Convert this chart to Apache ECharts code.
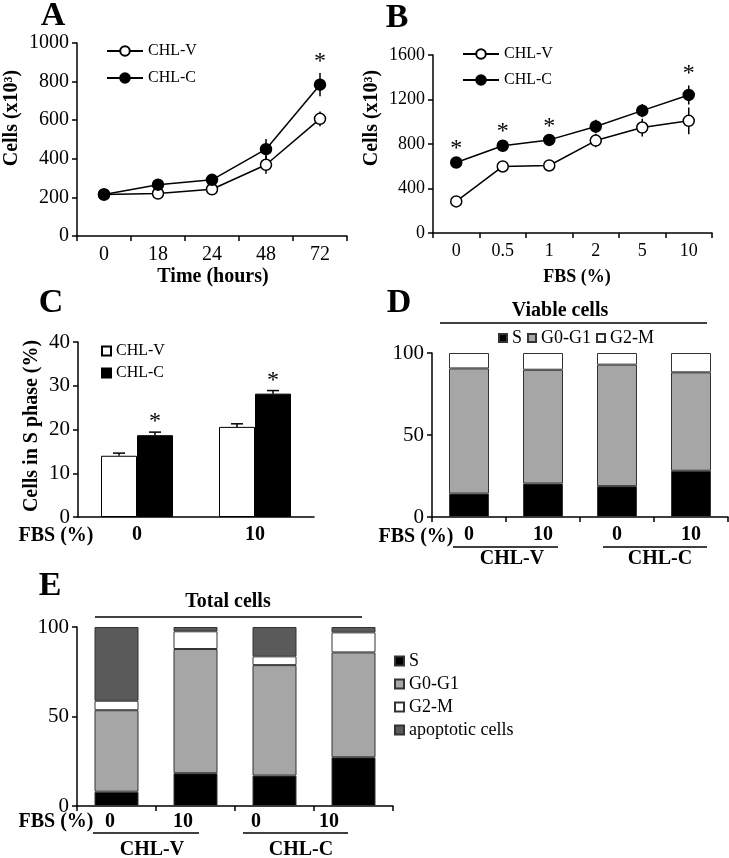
<!DOCTYPE html>
<html><head><meta charset="utf-8">
<script src="https://cdn.jsdelivr.net/npm/echarts@6/dist/echarts.min.js"></script>
<style>html,body{margin:0;padding:0;background:#fff}#c{width:729px;height:858px}</style>
</head><body><div id="c"></div>
<script>
const FF = '"Liberation Serif","Times New Roman",serif';
// ---- Panel A: growth over time ----
const timeLabels = ['0','18','24','48','72'];
const aV = [215,220,242,369,607];
const aVerr = [5,8,8,47,38];
const aC = [215,266,291,450,784];
const aCerr = [5,8,8,52,60];
const aSig = [0,0,0,0,1];
// ---- Panel B: FBS dose ----
const fbsLabels = ['0','0.5','1','2','5','10'];
const bV = [284,598,607,831,948,1008];
const bVerr = [10,15,15,60,80,120];
const bC = [634,784,837,957,1100,1241];
const bCerr = [15,15,15,60,60,85];
const bSig = [1,1,1,0,0,1];
// ---- Panel C: S phase ----
const cLabels = ['0','10'];
const cV = [14.0,20.6];
const cVerr = [0.6,0.7];
const cC = [18.7,28.2];
const cCerr = [0.7,0.7];
const cSig = [1,1];
// ---- Panel D: viable cells ----
const groupLabels = ['0','10','0','10'];
const dS = [14.3,20.4,18.8,28.2];
const dG1 = [76.3,69.4,74.1,60.0];
const dG2 = [9.4,10.2,7.1,11.8];
// ---- Panel E: total cells ----
const eS = [8.0,18.3,17.0,27.2];
const eG1 = [45.5,69.4,61.7,58.6];
const eG2 = [5.3,9.9,4.9,11.2];
const eApo = [41.2,2.4,16.4,3.0];

const GRAY = '#a6a6a6', DARK = '#5a5a5a', EDGE = '#333';
const fmt = n => n.split('|')[1];
const axLine = {show:true, lineStyle:{color:'#000', width:1.5}};
const axTick = {show:true, length:5, lineStyle:{color:'#000', width:1.5}};

function xCat(gi, data, size, bold, margin, extra) {
  return Object.assign({gridIndex:gi, type:'category', data, axisLine:axLine, axisTick:axTick,
    axisLabel:{fontFamily:FF, fontSize:size, fontWeight:bold?'bold':'normal', color:'#000', margin}}, extra||{});
}
function yVal(gi, max, interval, size) {
  return {gridIndex:gi, type:'value', min:0, max, interval, axisLine:axLine, axisTick:axTick,
    splitLine:{show:false}, axisLabel:{fontFamily:FF, fontSize:size, color:'#000', margin:8, formatter:v => String(v)}};
}
function errRender(capW, dx, upOnly) {
  return function(params, api) {
    const i = api.value(0), m = api.value(1), e = api.value(2);
    const top = api.coord([i, m + e]);
    const bot = api.coord([i, upOnly ? m : m - e]);
    const x = top[0] + dx;
    const ch = [{type:'line', shape:{x1:x, y1:top[1], x2:x, y2:bot[1]}, style:{stroke:'#000', lineWidth:1.5}}];
    if (capW) ch.push({type:'line', shape:{x1:x-capW/2, y1:top[1], x2:x+capW/2, y2:top[1]}, style:{stroke:'#000', lineWidth:1.5}});
    return {type:'group', children:ch};
  };
}
function starRender(dx, gap) {
  return function(params, api) {
    const p = api.coord([api.value(0), api.value(1)]);
    return {type:'text', x:p[0] + dx, y:p[1] - gap,
      style:{text:'*', font:'24px ' + FF, fill:'#000', align:'center', verticalAlign:'middle'}};
  };
}
const errData = (m, e) => m.map((v, i) => [i, v, e[i]]);
const starData = (sig, m, e) => sig.map((s, i) => s ? [i, m[i] + e[i]] : null).filter(Boolean);

function lineSeries(name, gi, data, filled) {
  return {name, type:'line', xAxisIndex:gi, yAxisIndex:gi, data, z:3,
    symbol:'circle', symbolSize:11,
    itemStyle:{color: filled ? '#000' : '#fff', borderColor:'#000', borderWidth:1.5},
    lineStyle:{color:'#000', width:1.5}};
}
function errSeries(gi, m, e, capW, dx, upOnly) {
  return {type:'custom', xAxisIndex:gi, yAxisIndex:gi, z:1, data:errData(m, e), renderItem:errRender(capW, dx, upOnly)};
}
function starSeries(gi, sig, m, e, dx, gap) {
  return {type:'custom', xAxisIndex:gi, yAxisIndex:gi, z:4, data:starData(sig, m, e), renderItem:starRender(dx, gap)};
}
function stackBar(name, gi, data, color, width) {
  return {name, type:'bar', stack:'s' + gi, xAxisIndex:gi, yAxisIndex:gi, data, barWidth:width,
    itemStyle:{color, borderColor:EDGE, borderWidth:1}};
}

function T(text, x, y, size, bold, rot) {
  return {type:'text', x, y, rotation:rot || 0, z:10,
    style:{text, font:(bold ? 'bold ' : '') + size + 'px ' + FF, fill:'#000', align:'center', verticalAlign:'middle'}};
}
function L(x1, y1, x2, y2) {
  return {type:'line', z:10, shape:{x1, y1, x2, y2}, style:{stroke:'#000', lineWidth:1.5}};
}
const R = Math.PI / 2;

const legText = size => ({fontFamily:FF, fontSize:size, color:'#000'});

const option = {
  animation:false,
  backgroundColor:'#fff',
  grid:[
    {left:77, top:43, width:270, height:193},
    {left:433, top:55, width:279, height:178},
    {left:78, top:342, width:236, height:175},
    {left:432, top:353, width:296, height:164},
    {left:77, top:627, width:316, height:179},
    {left:73.5, top:627, width:292, height:179}
  ],
  xAxis:[
    xCat(0, timeLabels, 20, false, 9),
    xCat(1, fbsLabels, 18, false, 9),
    xCat(2, cLabels, 20, true, 8, {axisTick:{show:false}}),
    xCat(3, groupLabels, 20, true, 8),
    xCat(4, groupLabels, 20, true, 6, {axisLabel:{show:false}}),
    xCat(5, groupLabels, 20, true, 6, {axisLine:{show:false}, axisTick:{show:false}})
  ],
  yAxis:[
    yVal(0, 1000, 200, 20),
    yVal(1, 1600, 400, 18),
    yVal(2, 40, 10, 21),
    yVal(3, 100, 50, 21),
    yVal(4, 100, 50, 21),
    {gridIndex:5, type:'value', show:false, min:0, max:100}
  ],
  legend:[
    {data:['A|CHL-V','A|CHL-C'], formatter:fmt, orient:'vertical', left:101, top:38, itemWidth:36, itemHeight:12, itemGap:11, selectedMode:false, textStyle:legText(16)},
    {data:['B|CHL-V','B|CHL-C'], formatter:fmt, orient:'vertical', left:457, top:41, itemWidth:36, itemHeight:12, itemGap:10, selectedMode:false, textStyle:legText(16)},
    {data:['C|CHL-V','C|CHL-C'], formatter:fmt, orient:'vertical', left:96, top:338, itemWidth:9, itemHeight:9, itemGap:6, selectedMode:false, icon:'rect', textStyle:legText(16)},
    {data:['D|S','D|G0-G1','D|G2-M'], formatter:fmt, orient:'horizontal', left:493, top:324, itemWidth:8, itemHeight:8, itemGap:5, selectedMode:false, icon:'rect', textStyle:legText(18)},
    {data:['E|S','E|G0-G1','E|G2-M','E|apoptotic cells'], formatter:fmt, orient:'vertical', left:389, top:647, itemWidth:9, itemHeight:9, itemGap:5, selectedMode:false, icon:'rect', textStyle:legText(18)}
  ],
  series:[
    errSeries(0, aV, aVerr, 0, 0, false),
    errSeries(0, aC, aCerr, 0, 0, false),
    lineSeries('A|CHL-V', 0, aV, false),
    lineSeries('A|CHL-C', 0, aC, true),
    starSeries(0, aSig, aC, aCerr, 0, 11),

    errSeries(1, bV, bVerr, 0, 0, false),
    errSeries(1, bC, bCerr, 0, 0, false),
    lineSeries('B|CHL-V', 1, bV, false),
    lineSeries('B|CHL-C', 1, bC, true),
    starSeries(1, bSig, bC, bCerr, 0, 12),

    {name:'C|CHL-V', type:'bar', xAxisIndex:2, yAxisIndex:2, data:cV, barWidth:36, barGap:'0%',
      itemStyle:{color:'#fff', borderColor:'#000', borderWidth:1}},
    {name:'C|CHL-C', type:'bar', xAxisIndex:2, yAxisIndex:2, data:cC, barWidth:36, barGap:'0%',
      itemStyle:{color:'#000', borderColor:'#000', borderWidth:1}},
    errSeries(2, cV, cVerr, 12, -18, true),
    errSeries(2, cC, cCerr, 12, 18, true),
    starSeries(2, cSig, cC, cCerr, 18, 10),

    stackBar('D|S', 3, dS, '#000', 40),
    stackBar('D|G0-G1', 3, dG1, GRAY, 40),
    stackBar('D|G2-M', 3, dG2, '#fff', 40),

    stackBar('E|S', 4, eS, '#000', 44),
    stackBar('E|G0-G1', 4, eG1, GRAY, 44),
    stackBar('E|G2-M', 4, eG2, '#fff', 44),
    stackBar('E|apoptotic cells', 4, eApo, DARK, 44)
  ],
  graphic:[
    T('A', 53, 16, 34, true), T('B', 397, 18, 34, true), T('C', 51, 303, 34, true),
    T('D', 399, 303, 34, true), T('E', 50, 586, 34, true),
    T('Cells (x10³)', 12, 118, 20, true, R),
    T('Time (hours)', 213, 277, 20, true),
    T('Cells (x10³)', 372, 118, 20, true, R),
    T('FBS (%)', 577, 277, 18, true),
    T('Cells in S phase (%)', 32, 426, 20, true, R),
    T('FBS (%)', 56, 536, 20, true),
    T('Viable cells', 560, 311, 20, true), L(440, 323, 707, 323),
    T('FBS (%)', 416, 537, 20, true),
    L(453, 547, 558, 547), L(603, 547, 707, 547),
    T('CHL-V', 512, 559, 20, true), T('CHL-C', 660, 559, 20, true),
    T('Total cells', 228, 602, 20, true), L(95, 617, 362, 617),
    T('FBS (%)', 56, 822, 20, true),
    L(93, 833, 199, 833), L(243, 833, 348, 833),
    T('CHL-V', 152, 850, 20, true), T('CHL-C', 301, 850, 20, true)
  ]
};
const chart = echarts.init(document.getElementById('c'), null, {renderer:'canvas'});
chart.setOption(option);
</script>
</body></html>
